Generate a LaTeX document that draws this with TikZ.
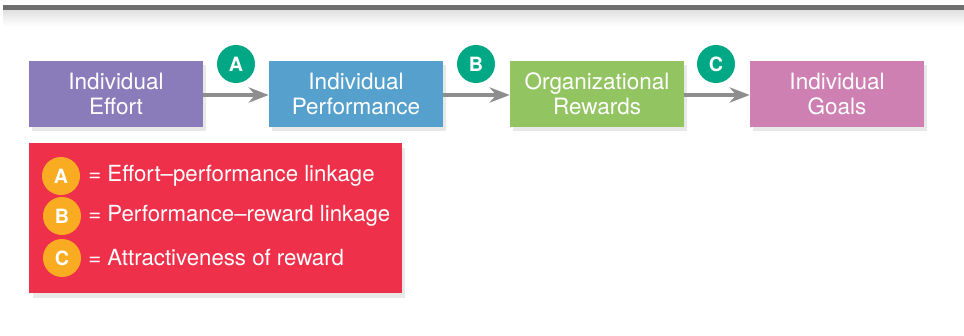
\documentclass[tikz,border=0pt]{standalone}
\usepackage{fontspec}
\setmainfont{TeX Gyre Heros}
\usetikzlibrary{arrows.meta,positioning,shadows}

\definecolor{effortc}{HTML}{8A7CBA}
\definecolor{perfc}{HTML}{56A0CD}
\definecolor{rewardc}{HTML}{93C462}
\definecolor{goalc}{HTML}{CD80B1}
\definecolor{linkc}{HTML}{00A886}
\definecolor{keyc}{HTML}{F9AC22}
\definecolor{legendc}{HTML}{EE304A}
\definecolor{barc}{HTML}{6E6E6E}
\definecolor{arrc}{HTML}{8E8E8E}

\begin{document}
\begin{tikzpicture}[
  x=0.025cm, y=-0.025cm,
  stage/.style={rectangle, fill=#1, minimum width=4.35cm, minimum height=1.65cm,
    align=center, text=white, font=\fontsize{16}{17.5}\selectfont,
    drop shadow={opacity=0.18, shadow xshift=0.08cm, shadow yshift=-0.1cm}},
  link/.style={circle, fill=#1, minimum size=0.95cm, inner sep=0pt, text=white,
    font=\fontsize{14}{15}\selectfont\bfseries},
  arr/.style={-{Stealth[length=0.5cm, width=0.38cm, inset=0.16cm]}, draw=arrc, line width=2.8pt},
  keytext/.style={anchor=west, text=white, font=\fontsize{15.8}{17}\selectfont, inner sep=0pt}
]
\useasboundingbox (0,0) rectangle (964,335);

% top rule
\shade[top color=black!12, bottom color=white] (3,10) rectangle (964,26);
\fill[barc] (3,5) rectangle (964,10);

% stages
\node[stage=effortc] (effort) at (116,94) {Individual\\Effort};
\node[stage=perfc] (perf) at (356,94) {Individual\\Performance};
\node[stage=rewardc] (rewards) at (597,94) {Organizational\\Rewards};
\node[stage=goalc] (goals) at (837,94) {Individual\\Goals};

\draw[arr] (effort.east |- 0,95) -- (perf.west |- 0,95);
\draw[arr] (perf.east |- 0,95) -- (rewards.west |- 0,95);
\draw[arr] (rewards.east |- 0,95) -- (goals.west |- 0,95);

\node[link=linkc] (la) at (236,64) {A};
\node[link=linkc] (lb) at (476,64) {B};
\node[link=linkc] (lc) at (716,64) {C};

% legend
\node[rectangle, fill=legendc, minimum width=9.3cm, minimum height=3.75cm,
  drop shadow={opacity=0.18, shadow xshift=0.08cm, shadow yshift=-0.12cm}] (legend) at (215.5,218) {};
\node[link=keyc] (ka) at (61,176) {A};
\node[link=keyc] (kb) at (62,216) {B};
\node[link=keyc] (kc) at (62,258) {C};
\node[keytext] (ta) at (88,176) {= Effort–performance linkage};
\node[keytext] (tb) at (88,216) {= Performance–reward linkage};
\node[keytext] (tc) at (88,258) {= Attractiveness of reward};
\end{tikzpicture}
\end{document}
